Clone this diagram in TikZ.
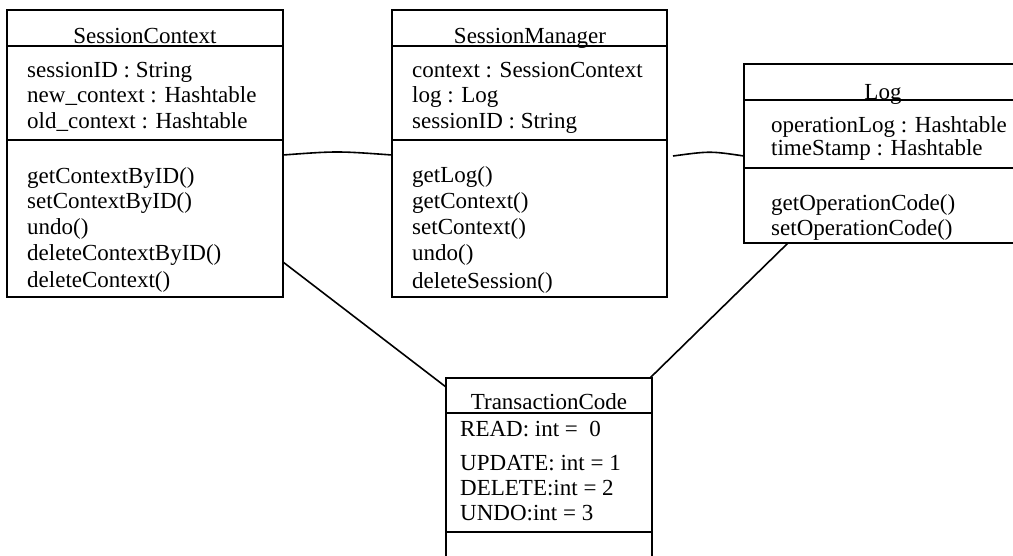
\documentclass[tikz,border=0pt]{standalone}
\usepackage{fontspec}
\setmainfont{Liberation Serif}
\usetikzlibrary{calc}
\begin{document}
\begin{tikzpicture}[x=1pt,y=-1pt,
  classbox/.style={draw, line width=2pt, inner sep=0pt, outer sep=0pt, anchor=north west},
  divider/.style={line width=2pt},
  assoc/.style={line width=1.6pt},
  txt/.style={inner sep=0pt, font=\fontsize{23}{26}\selectfont, anchor=base west},
  title/.style={inner sep=0pt, font=\fontsize{23}{26}\selectfont, anchor=base}]
\useasboundingbox (0,0) rectangle (1013,555);
\clip (0,0) rectangle (1013,555);

% class boxes
\node[classbox, minimum width=276pt, minimum height=287pt] (sc) at (7,10) {};
\node[classbox, minimum width=275pt, minimum height=287pt] (sm) at (392,10) {};
\node[classbox, minimum width=278pt, minimum height=179pt] (log) at (744,64) {};
\node[classbox, minimum width=206pt, minimum height=200pt] (tc) at (446,378) {};

% compartment dividers
\draw[divider] ($(sc.north west)+(0,36)$) -- ($(sc.north east)+(0,36)$);
\draw[divider] ($(sc.north west)+(0,130)$) -- ($(sc.north east)+(0,130)$);
\draw[divider] ($(sm.north west)+(0,36)$) -- ($(sm.north east)+(0,36)$);
\draw[divider] ($(sm.north west)+(0,130)$) -- ($(sm.north east)+(0,130)$);
\draw[divider] ($(log.north west)+(0,36)$) -- ($(log.north east)+(0,36)$);
\draw[divider] ($(log.north west)+(0,104)$) -- ($(log.north east)+(0,104)$);
\draw[divider] ($(tc.north west)+(0,35)$) -- ($(tc.north east)+(0,35)$);
\draw[divider] ($(tc.north west)+(0,154)$) -- ($(tc.north east)+(0,154)$);

% SessionContext
\node[title] (sc-name) at (145,43) {SessionContext};
\node[txt] (sc-a1) at (27,77) {sessionID : String};
\node[txt] (sc-a2) at (27,102) {new\_context : Hashtable};
\node[txt] (sc-a3) at (27,128) {old\_context : Hashtable};
\node[txt] (sc-m1) at (27,183) {getContextByID()};
\node[txt] (sc-m2) at (27,208) {setContextByID()};
\node[txt] (sc-m3) at (27,234) {undo()};
\node[txt] (sc-m4) at (27,260) {deleteContextByID()};
\node[txt] (sc-m5) at (27,287) {deleteContext()};

% SessionManager
\node[title] (sm-name) at (530,43) {SessionManager};
\node[txt] (sm-a1) at (412,77) {context : SessionContext};
\node[txt] (sm-a2) at (412,102) {log : Log};
\node[txt] (sm-a3) at (412,128) {sessionID : String};
\node[txt] (sm-m1) at (412,182) {getLog()};
\node[txt] (sm-m2) at (412,208) {getContext()};
\node[txt] (sm-m3) at (412,234) {setContext()};
\node[txt] (sm-m4) at (412,260) {undo()};
\node[txt] (sm-m5) at (412,288) {deleteSession()};

% Log
\node[title] (log-name) at (883,99) {Log};
\node[txt] (log-a1) at (771,132) {operationLog : Hashtable};
\node[txt] (log-a2) at (771,155) {timeStamp : Hashtable};
\node[txt] (log-m1) at (771,210) {getOperationCode()};
\node[txt] (log-m2) at (771,235) {setOperationCode()};

% TransactionCode
\node[title] (tc-name) at (549,409) {TransactionCode};
\node[txt] (tc-a1) at (460,436) {READ: int =\ \ 0};
\node[txt] (tc-a2) at (460,470) {UPDATE: int = 1};
\node[txt] (tc-a3) at (460,495) {DELETE:int = 2};
\node[txt] (tc-a4) at (460,520) {UNDO:int = 3};

% associations
\draw[assoc] ($(sc.north east)+(0,145)$) .. controls (337,151) .. ($(sm.north west)+(0,145)$);
\draw[assoc] ($(sm.north east)+(6,146)$) .. controls (710,151) .. ($(log.north west)+(0,92)$);
\draw[assoc] ($(sc.north east)+(0,252)$) -- ($(tc.north west)+(0,9)$);
\draw[assoc] ($(log.south west)+(44,0)$) -- ($(tc.north east)+(-2,0)$);
\end{tikzpicture}
\end{document}
